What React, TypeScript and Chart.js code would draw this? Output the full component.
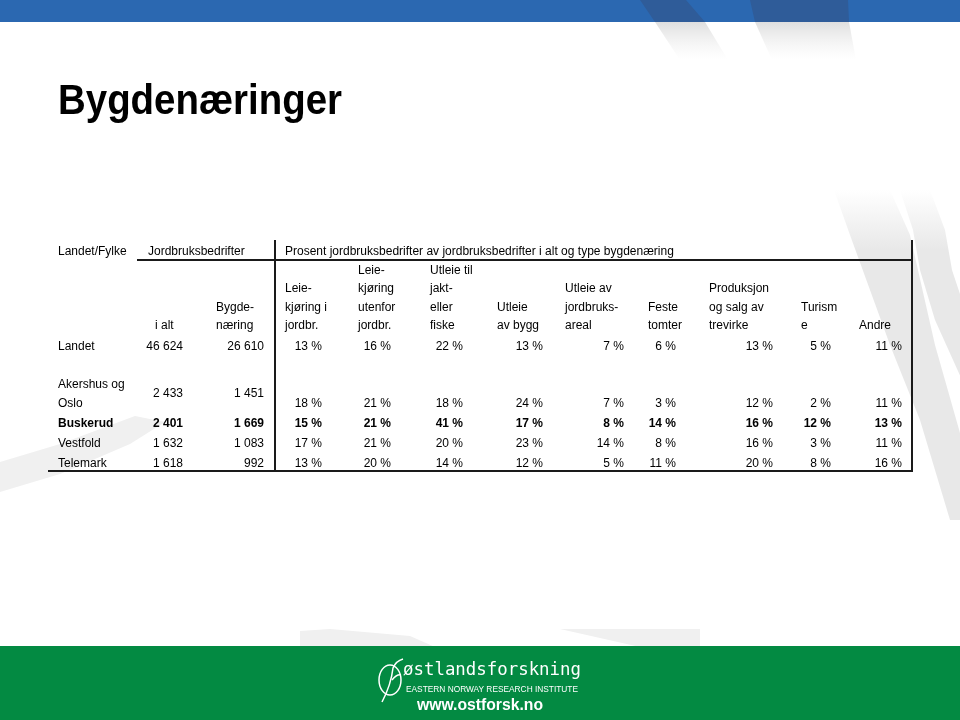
import React, { useEffect, useRef } from "react";
import { Chart, registerables } from "chart.js";

Chart.register(...registerables);

// ---------- data ----------
const title = "Bygdenæringer";
const regionHeader = "Landet/Fylke";
const farmsHeader = "Jordbruksbedrifter";
const percentHeader =
  "Prosent jordbruksbedrifter av jordbruksbedrifter i alt og type bygdenæring";

const regions = [["Landet"], ["Akershus og", "Oslo"], ["Buskerud"], ["Vestfold"], ["Telemark"]];
const boldRegion = "Buskerud";

const farmsTotal = [46624, 2433, 2401, 1632, 1618];
const farmsRural = [26610, 1451, 1669, 1083, 992];

const columnHeaders = [
  ["i alt"],
  ["Bygde-", "næring"],
  ["Leie-", "kjøring i", "jordbr."],
  ["Leie-", "kjøring", "utenfor", "jordbr."],
  ["Utleie til", "jakt-", "eller", "fiske"],
  ["Utleie", "av bygg"],
  ["Utleie av", "jordbruks-", "areal"],
  ["Feste", "tomter"],
  ["Produksjon", "og salg av", "trevirke"],
  ["Turism", "e"],
  ["Andre"],
];

const leiekjoringJordbr = [13, 18, 15, 17, 13];
const leiekjoringUtenfor = [16, 21, 21, 21, 20];
const utleieJaktFiske = [22, 18, 41, 20, 14];
const utleieBygg = [13, 24, 17, 23, 12];
const utleieAreal = [7, 7, 8, 14, 5];
const festeTomter = [6, 3, 14, 8, 11];
const trevirke = [13, 12, 16, 16, 20];
const turisme = [5, 2, 12, 3, 8];
const andre = [11, 11, 13, 11, 16];

const percentSeries = [
  leiekjoringJordbr,
  leiekjoringUtenfor,
  utleieJaktFiske,
  utleieBygg,
  utleieAreal,
  festeTomter,
  trevirke,
  turisme,
  andre,
];

const logoName = "østlandsforskning";
const logoSub = "EASTERN NORWAY RESEARCH INSTITUTE";
const logoUrl = "www.ostforsk.no";

// ---------- layout (page coordinates on the chart's scales) ----------
const colLeft = [155, 216, 285, 358, 430, 497, 565, 648, 709, 801, 859];
const colRight = [183, 264, 322, 391, 463, 543, 624, 676, 773, 831, 902];
const headerRowY = [270.5, 289, 307.5, 326];
const regionLineY = [[347], [385, 404], [424], [444], [464]];
const farmsY = [347, 394, 424, 444, 464];
const percentY = [347, 404, 424, 444, 464];

const FONT = "'Liberation Sans', Arial, sans-serif";

const fmt = (n: number) => n.toString().replace(/\B(?=(\d{3})+(?!\d))/g, " ");

function fitText(ctx: CanvasRenderingContext2D, text: string, x: number, y: number, w: number) {
  const m = ctx.measureText(text).width;
  ctx.save();
  ctx.translate(x, y);
  ctx.scale(w / m, 1);
  ctx.fillText(text, 0, 0);
  ctx.restore();
}

function poly(
  ctx: CanvasRenderingContext2D,
  X: (v: number) => number,
  Y: (v: number) => number,
  pts: number[][],
  color: string | CanvasGradient
) {
  ctx.beginPath();
  pts.forEach((p, i) => (i === 0 ? ctx.moveTo(X(p[0]), Y(p[1])) : ctx.lineTo(X(p[0]), Y(p[1]))));
  ctx.closePath();
  ctx.fillStyle = color;
  ctx.fill();
}

function vGrad(ctx: CanvasRenderingContext2D, y0: number, y1: number, c0: string, c1: string) {
  const g = ctx.createLinearGradient(0, y0, 0, y1);
  g.addColorStop(0, c0);
  g.addColorStop(1, c1);
  return g;
}

const backgroundPlugin = {
  id: "pageBackground",
  beforeDraw(chart: any) {
    const ctx: CanvasRenderingContext2D = chart.ctx;
    const X = (v: number) => chart.scales.x.getPixelForValue(v);
    const Y = (v: number) => chart.scales.y.getPixelForValue(v);
    ctx.save();
    ctx.fillStyle = "#ffffff";
    ctx.fillRect(0, 0, chart.width, chart.height);

    // top-right swooshes just below the blue band (fading out)
    const topFade = vGrad(ctx, Y(22), Y(60), "rgba(215,215,215,0.8)", "rgba(235,235,235,0)");
    poly(ctx, X, Y, [[655, 22], [705, 22], [728, 60], [680, 60]], topFade);
    poly(ctx, X, Y, [[755, 22], [849, 22], [856, 60], [772, 60]], topFade);

    // swooshes on the right of the table
    const rightFade = vGrad(ctx, Y(190), Y(250), "rgba(232,232,232,0)", "rgba(232,232,232,1)");
    poly(ctx, X, Y, [[834, 190], [890, 190], [910, 235], [935, 345], [962, 440], [962, 520], [950, 520], [920, 420], [890, 345], [850, 235]], rightFade);
    poly(ctx, X, Y, [[900, 190], [930, 190], [945, 230], [952, 270], [962, 300], [962, 380], [935, 320], [920, 270], [913, 230]], rightFade);

    // lower-left swoosh
    poly(ctx, X, Y, [[0, 462], [0, 492], [60, 474], [130, 444], [165, 422], [135, 416], [60, 444]], "#f0f0f0");
    // swooshes above the green band
    poly(ctx, X, Y, [[300, 647], [435, 647], [410, 636], [330, 629], [300, 631]], "#f0f0f0");
    poly(ctx, X, Y, [[560, 629], [700, 629], [700, 647], [640, 647]], "#f0f0f0");

    // blue band
    ctx.fillStyle = "#2b68b1";
    ctx.fillRect(X(0), Y(0), X(960) - X(0), Y(22) - Y(0));
    poly(ctx, X, Y, [[640, 0], [686, 0], [705, 22], [655, 22]], "#2f5c99");
    poly(ctx, X, Y, [[750, 0], [848, 0], [849, 22], [755, 22]], "#2f5c99");

    // green band
    ctx.fillStyle = "#038a42";
    ctx.fillRect(X(0), Y(646), X(960) - X(0), Y(720) - Y(646));
    ctx.restore();
  },
};

const tablePlugin = {
  id: "bygdeTable",
  afterDraw(chart: any) {
    const ctx: CanvasRenderingContext2D = chart.ctx;
    const X = (v: number) => chart.scales.x.getPixelForValue(v);
    const Y = (v: number) => chart.scales.y.getPixelForValue(v);
    ctx.save();
    ctx.fillStyle = "#000";

    // title
    ctx.font = `bold 43px ${FONT}`;
    ctx.textBaseline = "alphabetic";
    ctx.textAlign = "left";
    fitText(ctx, title, X(58), Y(114), 284);

    // header texts
    ctx.font = `12px ${FONT}`;
    ctx.textBaseline = "middle";
    ctx.textAlign = "left";
    ctx.fillText(regionHeader, X(58), Y(252));
    ctx.fillText(farmsHeader, X(148), Y(252));
    ctx.fillText(percentHeader, X(285), Y(252));

    columnHeaders.forEach((lines, c) => {
      const offset = headerRowY.length - lines.length;
      lines.forEach((t, i) => ctx.fillText(t, X(colLeft[c]), Y(headerRowY[offset + i])));
    });

    // rows
    regions.forEach((lines, r) => {
      const bold = lines[0] === boldRegion;
      ctx.font = `${bold ? "bold " : ""}12px ${FONT}`;
      ctx.textAlign = "left";
      lines.forEach((t, i) => ctx.fillText(t, X(58), Y(regionLineY[r][i])));
      ctx.textAlign = "right";
      ctx.fillText(fmt(farmsTotal[r]), X(colRight[0]), Y(farmsY[r]));
      ctx.fillText(fmt(farmsRural[r]), X(colRight[1]), Y(farmsY[r]));
      percentSeries.forEach((s, c) => {
        ctx.fillText(`${s[r]} %`, X(colRight[c + 2]), Y(percentY[r]));
      });
    });

    // rules
    ctx.strokeStyle = "#1a1a1a";
    ctx.lineWidth = 2;
    ctx.beginPath();
    ctx.moveTo(X(137), Y(260));
    ctx.lineTo(X(912), Y(260));
    ctx.moveTo(X(275), Y(240));
    ctx.lineTo(X(275), Y(472));
    ctx.moveTo(X(912), Y(240));
    ctx.lineTo(X(912), Y(472));
    ctx.moveTo(X(48), Y(471));
    ctx.lineTo(X(913), Y(471));
    ctx.stroke();

    // logo
    ctx.strokeStyle = "#ffffff";
    ctx.fillStyle = "#ffffff";
    ctx.lineWidth = 1.5;
    ctx.beginPath();
    ctx.ellipse(X(390), Y(680), 11, 15, 0, 0, Math.PI * 2);
    ctx.stroke();
    ctx.beginPath();
    ctx.moveTo(X(382), Y(702));
    ctx.quadraticCurveTo(X(391), Y(685), X(393), Y(668));
    ctx.quadraticCurveTo(X(396), Y(661), X(403), Y(659));
    ctx.stroke();
    ctx.beginPath();
    ctx.moveTo(X(392), Y(680));
    ctx.quadraticCurveTo(X(397), Y(674), X(401), Y(675));
    ctx.stroke();

    ctx.textAlign = "left";
    ctx.textBaseline = "alphabetic";
    ctx.font = `18px 'DejaVu Sans Mono', monospace`;
    fitText(ctx, logoName, X(403), Y(675), 178);
    ctx.font = `9px ${FONT}`;
    fitText(ctx, logoSub, X(406), Y(691.5), 172);
    ctx.font = `bold 16px ${FONT}`;
    fitText(ctx, logoUrl, X(417), Y(709.5), 126);

    ctx.restore();
  },
};

export default function App() {
  const ref = useRef<HTMLCanvasElement>(null);
  useEffect(() => {
    if (!ref.current) return;
    const chart = new Chart(ref.current, {
      type: "scatter",
      data: { datasets: [] },
      options: {
        animation: false,
        responsive: false,
        maintainAspectRatio: false,
        events: [],
        layout: { padding: 0 },
        scales: {
          x: { type: "linear", min: 0, max: 960, display: false },
          y: { type: "linear", min: 0, max: 720, reverse: true, display: false },
        },
        plugins: { legend: { display: false }, tooltip: { enabled: false } },
      },
      plugins: [backgroundPlugin, tablePlugin],
    } as any);
    return () => chart.destroy();
  }, []);
  return (
    <canvas
      ref={ref}
      width={960}
      height={720}
      style={{ position: "fixed", left: 0, top: 0, width: 960, height: 720 }}
    />
  );
}
